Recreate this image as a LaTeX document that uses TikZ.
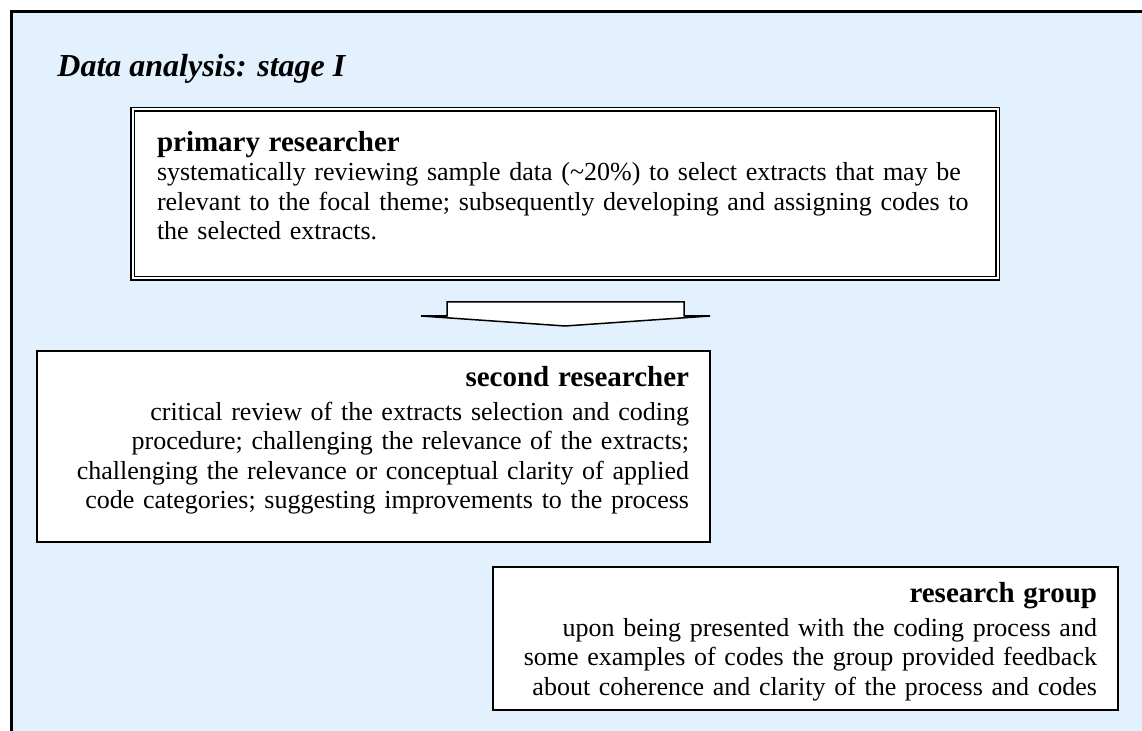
\documentclass[tikz,border=0pt]{standalone}
\usepackage{fontspec}
\setmainfont{Liberation Serif}
\usepackage{xcolor}
\usepackage{tikz}
\usetikzlibrary{positioning, calc}
\definecolor{panelblue}{RGB}{226, 241, 253}
\newcommand{\bodyfont}{\fontsize{13}{14.7}\selectfont}
\newcommand{\rolehead}[1]{{\fontsize{14.5}{14.7}\selectfont\bfseries #1}}
\tikzset{
    panel/.style={fill=panelblue},
    frameline/.style={draw=black, line width=1.5pt},
    rolebox/.style={rectangle, draw=black, fill=white, line width=0.75pt, inner sep=0pt, outer sep=0pt, anchor=north west, font=\bodyfont},
    leadbox/.style={rolebox, double=white, double distance=1pt, line width=0.75pt},
    stagetitle/.style={anchor=base west, inner sep=0pt, font=\fontsize{16}{19}\selectfont\bfseries\itshape},
    flowarrow/.style={draw=black, fill=white, line width=0.75pt, line join=miter}
}

\begin{document}
\begin{tikzpicture}[x=0.5pt, y=-0.5pt]
        \useasboundingbox (0,0) rectangle (1142,731);
        \fill [panel] (11.5,11.5) rectangle (1160,750);
        \draw [frameline] (11.5,750) -- (11.5,11.5) -- (1160,11.5);

        \node [stagetitle] (title) at (57,77) {Data analysis: stage I};

        \node [leadbox, align=left, text width=408pt, inner xsep=12.25pt, text height=21pt, text depth=63.5pt] (primary) at (132.5,109.5)
            {\rolehead{primary researcher}\\
             systematically reviewing sample data (\textasciitilde20\%) to select extracts that may be\\
             relevant to the focal theme; subsequently developing and assigning codes to\\
             the selected extracts.};

        \node [rolebox, align=right, text width=315.5pt, inner xsep=10.5pt, text height=18pt, text depth=77.5pt] (second) at (37,351)
            {\rolehead{second researcher}\\[2pt]
             critical review of the extracts selection and coding\\
             procedure; challenging the relevance of the extracts;\\
             challenging the relevance or conceptual clarity of applied\\
             code categories; suggesting improvements to the process};

        \node [rolebox, align=right, text width=291.5pt, inner xsep=10.5pt, text height=18pt, text depth=53.5pt] (group) at (493,567)
            {\rolehead{research group}\\[2pt]
             upon being presented with the coding process and\\
             some examples of codes the group provided feedback\\
             about coherence and clarity of the process and codes};

        % Paths
        \path (primary.south) ++(0,47.5) coordinate (tip);
        \draw [flowarrow] (tip) -- ++(-144,-10) -- ++(26,0) -- ++(0,-14) -- ++(237,0) -- ++(0,14) -- ++(26,0) -- cycle;

    \end{tikzpicture}
\end{document}
